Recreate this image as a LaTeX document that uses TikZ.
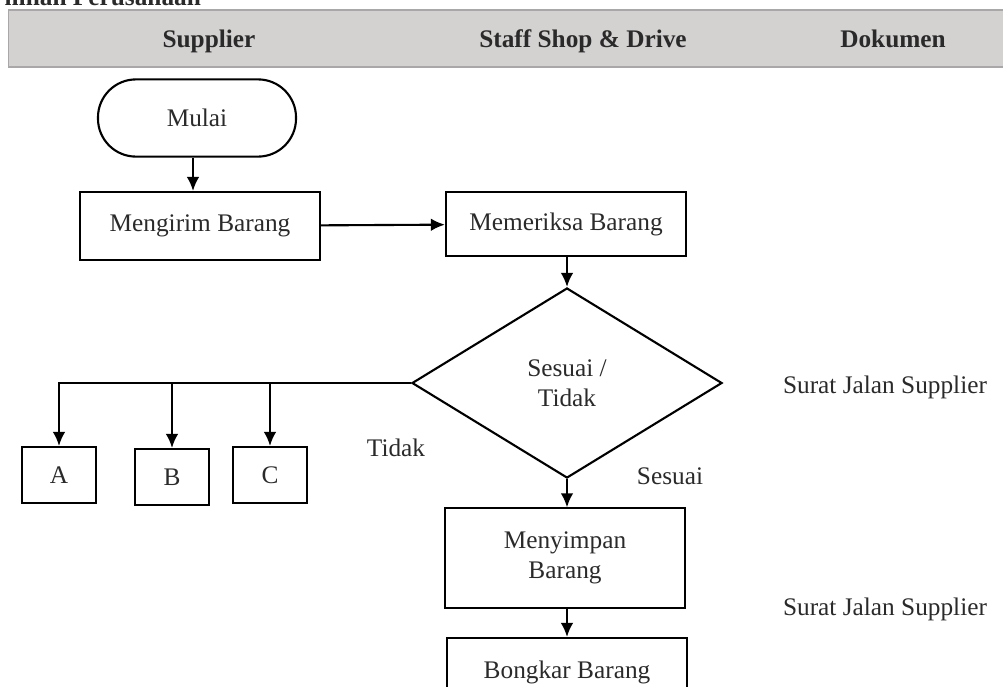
\documentclass[tikz,border=0pt]{standalone}
\usepackage{fontspec}
\setmainfont{Liberation Serif}
\usetikzlibrary{arrows.meta}
\usetikzlibrary{shapes.geometric}

\definecolor{bandgray}{HTML}{D4D1D1}
\definecolor{bandline}{HTML}{A9A7A7}
\definecolor{ink}{HTML}{2A2A2A}

\tikzset{
  proc/.style={rectangle,draw,line width=1.5pt,minimum width=6cm,minimum height=1.7cm,
    align=center,text=ink,font=\fontsize{18}{21}\selectfont},
  letterbox/.style={rectangle,draw,line width=1.5pt,minimum width=1.87cm,minimum height=1.4cm,
    text=ink,font=\fontsize{18}{21}\selectfont},
  plain/.style={text=ink,font=\fontsize{18}{21}\selectfont,align=center},
  head/.style={font=\bfseries\fontsize{18}{21}\selectfont,text=ink,anchor=base}
}

\begin{document}
\begin{tikzpicture}[x=0.025cm,y=-0.025cm,>={Latex[length=10pt,width=9pt]},line width=1.5pt]

\useasboundingbox (0,0) rectangle (1003,686);
\clip (0,0) rectangle (1003,686);

% header band
\fill[bandgray] (8,10) rectangle (1010,67);
\draw[bandline,line width=2pt] (8,10) -- (1010,10);
\draw[bandline,line width=2pt] (8,67) -- (1010,67);
\draw[bandline,line width=0.6pt] (8,10) -- (8,67);
\node[head,anchor=base west] (title) at (-1,5) {mhan Perusahaan};
\node[head] (hsupplier) at (209,47) {Supplier};
\node[head] (hstaff) at (583,47) {Staff Shop \& Drive};
\node[head] (hdok) at (893,47) {Dokumen};

% flow
\node[proc,rounded corners=0.95cm,minimum width=4.95cm,minimum height=1.93cm] (mulai) at (197,118) {Mulai};
\node[proc] (kirim) at (200,226) {Mengirim Barang};
\node[proc,minimum height=1.6cm] (periksa) at (566,224) {Memeriksa Barang};
\node[diamond,draw,line width=1.5pt,minimum width=7.75cm,minimum height=4.75cm,inner sep=0pt,
  align=center,text=ink,font=\fontsize{18}{21}\selectfont] (cek) at (567,383) {Sesuai /\\Tidak};
\node[letterbox] (a) at (59,475) {A};
\node[letterbox] (b) at (172,477) {B};
\node[letterbox] (c) at (270,475) {C};
\node[proc,minimum height=2.48cm] (simpan) at (565,558) {Menyimpan\\Barang};
\node[proc] (bongkar) at (567,672) {Bongkar Barang};

\node[plain] (tidak) at (396,448) {Tidak};
\node[plain] (sesuai) at (670,476) {Sesuai};
\node[plain] (sj1) at (885,387) {Surat Jalan Supplier};
\node[plain] (sj2) at (885,609) {Surat Jalan Supplier};

\draw[->] (mulai.south -| 193,0) -- (kirim.north -| 193,0);
\draw[->] (kirim) -- (periksa);
\draw[->] (periksa.south -| cek.north) -- (cek.north);
\draw[->] (cek.west) -| (a.north);
\draw[->] (b.north |- cek.west) -- (b.north);
\draw[->] (c.north |- cek.west) -- (c.north);
\draw[->] (cek.south) -- (cek.south |- simpan.north);
\draw[->] (simpan.south -| cek.south) -- (cek.south |- bongkar.north);

\end{tikzpicture}
\end{document}
